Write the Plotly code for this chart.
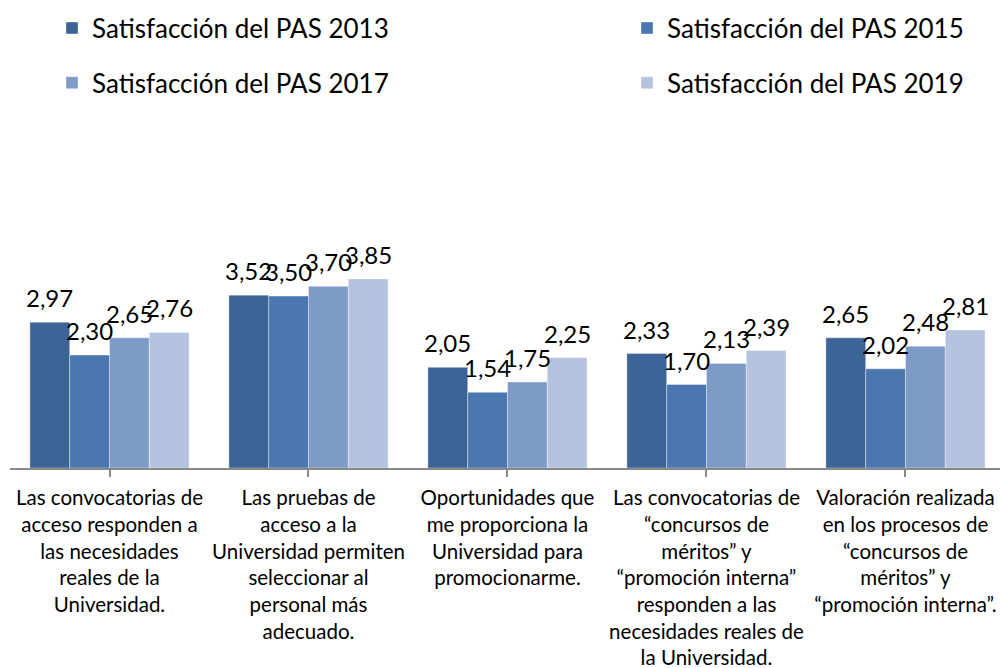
import plotly.graph_objects as go

categories = [
    "Las convocatorias de<br>acceso responden a<br>las necesidades<br>reales de la<br>Universidad.",
    "Las pruebas de<br>acceso a la<br>Universidad permiten<br>seleccionar al<br>personal más<br>adecuado.",
    "Oportunidades que<br>me proporciona la<br>Universidad para<br>promocionarme.",
    "Las convocatorias de<br>“concursos de<br>méritos” y<br>“promoción interna”<br>responden a las<br>necesidades reales de<br>la Universidad.",
    "Valoración realizada<br>en los procesos de<br>“concursos de<br>méritos” y<br>“promoción interna”.",
]
series_names = ["Satisfacción del PAS 2013", "Satisfacción del PAS 2015",
                "Satisfacción del PAS 2017", "Satisfacción del PAS 2019"]
v2013 = [2.97, 3.52, 2.05, 2.33, 2.65]
v2015 = [2.30, 3.50, 1.54, 1.70, 2.02]
v2017 = [2.65, 3.70, 1.75, 2.13, 2.48]
v2019 = [2.76, 3.85, 2.25, 2.39, 2.81]
colors = ["#3C6496", "#4A77B0", "#7E9BC8", "#B5C3DF"]

FONT = "Lato"
BARGAP = 0.2
fig = go.Figure()
values = [v2013, v2015, v2017, v2019]
legend_ids = ["legend", "legend2", "legend3", "legend4"]
n_series = len(values)
bar_w = (1 - BARGAP) / n_series
for j, (name, vals, col, lg) in enumerate(zip(series_names, values, colors, legend_ids)):
    xs = list(range(len(categories)))
    fig.add_trace(go.Bar(
        x=xs, y=vals, name=name,
        marker=dict(color=col, line=dict(width=0.6, color="rgba(255,255,255,0.6)")),
        legend=lg, hoverinfo="y",
    ))
    # data labels placed above each bar of the group
    off = (j - (n_series - 1) / 2) * bar_w
    for xi, v in zip(xs, vals):
        fig.add_annotation(
            x=xi + off, y=v, xref="x", yref="y",
            text=f"{v:.2f}".replace(".", ","), showarrow=False,
            yanchor="bottom", xanchor="center", yshift=8,
            font=dict(size=24, family=FONT, color="#000000"),
        )

legend_common = dict(orientation="h", xref="container", yref="container",
                     xanchor="left", yanchor="middle",
                     font=dict(size=26, family=FONT, color="#000000"),
                     bgcolor="rgba(0,0,0,0)", itemclick=False)
pos = {"legend": (0.052, 0.958), "legend2": (0.627, 0.958),
       "legend3": (0.052, 0.876), "legend4": (0.627, 0.876)}
legend_layouts = {k: dict(legend_common, x=p[0], y=p[1]) for k, p in pos.items()}

fig.update_layout(
    width=1000, height=668,
    margin=dict(l=10, r=0, t=247, b=200, autoexpand=False),
    paper_bgcolor="white", plot_bgcolor="white",
    barmode="group", bargap=BARGAP, bargroupgap=0,
    font=dict(family=FONT, color="#000000"),
    xaxis=dict(
        range=[-0.5, 4.475], tickmode="array",
        tickvals=list(range(len(categories))), ticktext=categories,
        showline=True, linecolor="#898989", linewidth=1.5,
        ticks="outside", ticklen=7, tickcolor="#898989", tickwidth=1.5,
        tickson="boundaries", ticklabelstandoff=4,
        showgrid=False, zeroline=False, automargin=False,
        tickfont=dict(size=20.5, family=FONT, color="#000000"),
    ),
    yaxis=dict(range=[0, 4.5], visible=False, showgrid=False, zeroline=False,
               automargin=False),
    showlegend=True,
    **legend_layouts,
)
fig.write_html("out.html", config={"displayModeBar": False})

# remove the default browser body margin so the figure fills the window
with open("out.html", "r", encoding="utf-8") as f:
    html = f.read()
html = html.replace("<body>", '<body style="margin:0;overflow:hidden;">', 1)
with open("out.html", "w", encoding="utf-8") as f:
    f.write(html)
